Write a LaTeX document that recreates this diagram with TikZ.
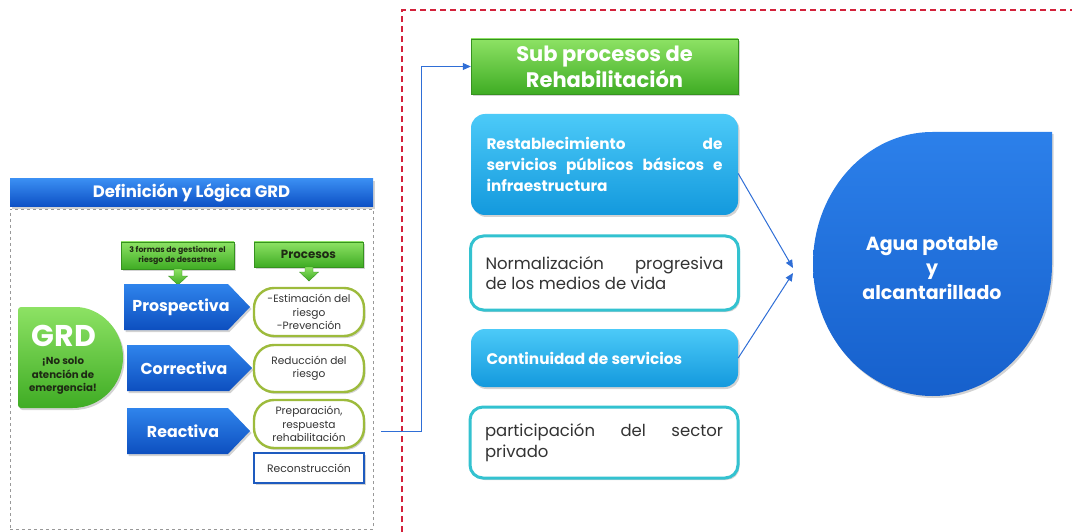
\documentclass[tikz,border=0pt]{standalone}
\usepackage{fontspec}
\setmainfont{Poppins}
\usetikzlibrary{shadows,arrows.meta,calc}
\definecolor{hdrTop}{HTML}{3A8EF2}
\definecolor{hdrBot}{HTML}{0C4FC4}
\definecolor{arrTop}{HTML}{2F84EC}
\definecolor{arrBot}{HTML}{0D4FBF}
\definecolor{gTop}{HTML}{8DE264}
\definecolor{gBot}{HTML}{3FAC24}
\definecolor{cTop}{HTML}{4CCAF8}
\definecolor{cBot}{HTML}{1399DD}
\definecolor{dTop}{HTML}{2C80EA}
\definecolor{dBot}{HTML}{1660CC}
\definecolor{procBorder}{HTML}{9DBB3C}
\definecolor{reconBorder}{HTML}{1E5BBF}
\definecolor{cyanBorder}{HTML}{33C2D0}
\definecolor{connCol}{HTML}{2F6ED6}
\definecolor{redCol}{HTML}{D3213B}
\definecolor{txtDark}{HTML}{333333}
\definecolor{grdTxt}{HTML}{1E2A14}
\tikzset{
  shad/.style={drop shadow={opacity=0.35,shadow xshift=1.5pt,shadow yshift=-2pt}},
  hdrbox/.style={top color=hdrTop,bottom color=hdrBot,shad,inner sep=0pt},
  gbox/.style={top color=gTop,bottom color=gBot,draw=gBot!85!black,line width=0.4pt,shad,inner sep=0pt,align=center},
  garrow/.style={top color=gTop,bottom color=gBot,draw=gBot!85!black,line width=0.4pt},
  bluepent/.style={top color=arrTop,bottom color=arrBot,shad},
  penttext/.style={text=white,font=\fontsize{15.8}{18}\selectfont\bfseries},
  procbox/.style={draw=procBorder,line width=2.4pt,fill=white,rounded corners=20pt,minimum width=110,align=center,inner sep=0pt,text=txtDark,font=\fontsize{10.6}{13.2}\selectfont,shad},
  reconbox/.style={draw=reconBorder,line width=2pt,fill=white,minimum width=110,minimum height=30,inner sep=0pt,text=txtDark,font=\fontsize{10.8}{12}\selectfont,shad},
  cyanbox/.style={top color=cTop,bottom color=cBot,rounded corners=14pt,minimum width=267,text width=236,align=justify,text=white,font=\fontsize{15.3}{21}\selectfont\bfseries,shad},
  whitebox/.style={draw=cyanBorder,line width=3pt,fill=white,rounded corners=13pt,minimum width=268,text width=238,align=justify,text=txtDark,font=\fontsize{16.5}{20.5}\selectfont,shad},
  conn/.style={draw=connCol,line width=1pt,-{Triangle[length=8pt,width=7pt]}},
}
\begin{document}
\begin{tikzpicture}[x=1pt,y=-1pt]
\useasboundingbox (0,0) rectangle (1072,532);
% ---------------- left panel ----------------
\node[draw=gray!80,dashed,line width=0.7pt,minimum width=363,minimum height=320,inner sep=0pt] (lbox) at (191.5,369) {};
\node[hdrbox,minimum width=363,minimum height=28,text=white,font=\fontsize{16.5}{18}\selectfont\bfseries] (hdr) at (191.5,193) {Definición y Lógica GRD};
% green label boxes
\node[gbox,minimum width=113,minimum height=27,text=grdTxt,font=\fontsize{7.8}{9.5}\selectfont\bfseries] (formas) at (177.5,255.5) {3 formas de gestionar el\\riesgo de desastres};
\node[gbox,minimum width=109,minimum height=25,text=grdTxt,font=\fontsize{11.8}{13}\selectfont\bfseries] (procesos) at (308.5,254.5) {Procesos};
% green down arrows
\path[garrow] (174,269) -- (182,269) -- (182,276) -- (187.5,276) -- (178,285) -- (168.5,276) -- (174,276) -- cycle;
\path[garrow] (305,267) -- (313,267) -- (313,272) -- (318.5,272) -- (309,281) -- (299.5,272) -- (305,272) -- cycle;
% GRD shape
\path[top color=gTop,bottom color=gBot,shad,rounded corners=3pt] (18,307) -- (72.5,307) [sharp corners] arc[start angle=-90,end angle=90,radius=50.5] [rounded corners=3pt] -- (18,408) -- cycle;
\node[text=white,font=\fontsize{30}{32}\selectfont\bfseries,inner sep=0pt] (grd) at (64,336) {GRD};
\node[text=grdTxt,align=center,font=\fontsize{10.2}{13.5}\selectfont\bfseries,inner sep=0pt] (grdsub) at (63,376) {¡No solo\\atención de\\emergencia!};
% blue pentagons
\path[bluepent] (124,284) -- (228,284) -- (250,307) -- (228,330) -- (124,330) -- cycle;
\node[penttext] (prosp) at (181,307) {Prospectiva};
\path[bluepent] (127,345) -- (229,345) -- (252,368) -- (229,391) -- (127,391) -- cycle;
\node[penttext] (correc) at (184,368) {Correctiva};
\path[bluepent] (127,408) -- (228,408) -- (250,431) -- (228,454) -- (127,454) -- cycle;
\node[penttext] (react) at (183,431) {Reactiva};
% process boxes
\node[procbox,minimum height=48] (p1) at (309,312) {-Estimación del\\riesgo\\-Prevención};
\node[procbox,minimum height=47] (p2) at (309,368.5) {Reducción del\\riesgo};
\node[procbox,minimum height=48] (p3) at (309,424) {Preparación,\\respuesta\\rehabilitación};
\node[reconbox] (recon) at (309,468) {Reconstrucción};
% ---------------- red frame ----------------
\coordinate (rf1) at (402,532);
\coordinate (rf2) at (402,10);
\coordinate (rf3) at (1072,10);
\draw[redCol,line width=1.3pt,dash pattern=on 6pt off 4pt] (rf1) -- (rf2) -- (rf3);
% ---------------- right panel ----------------
\node[gbox,minimum width=267,minimum height=55,text=white,font=\fontsize{21}{26}\selectfont\bfseries] (sub) at (604.5,66.5) {Sub procesos de\\Rehabilitación};
\node[cyanbox,minimum height=101] (rest) at (604.5,164.5) {Restablecimiento de\linebreak servicios públicos básicos e\linebreak infraestructura};
\node[whitebox,minimum height=74] (norm) at (604.5,273) {Normalización progresiva\linebreak de los medios de vida};
\node[cyanbox,minimum height=58] (cont) at (604.5,358) {Continuidad de servicios};
\node[whitebox,minimum height=71] (part) at (604,442.5) {participación del sector\linebreak privado};
% water drop
\path[top color=dTop,bottom color=dBot,shad] (1052,132) -- (1052,264) arc[start angle=0,end angle=270,x radius=119.5,y radius=132] -- cycle;
\node[text=white,align=center,font=\fontsize{19}{24.5}\selectfont\bfseries,inner sep=0pt] (agua) at (932,268) {Agua potable\\y\\alcantarillado};
% connectors
\coordinate (cstart) at (381,431);
\coordinate (elbow) at (421,431);
\draw[conn] (cstart) -- (elbow) |- (sub.west);
\coordinate (tip1) at (793,268);
\coordinate (tip2) at (793,273);
\draw[conn] ([yshift=-9pt]rest.east) -- (tip1);
\draw[conn] (cont.east) -- (tip2);
\end{tikzpicture}
\end{document}
